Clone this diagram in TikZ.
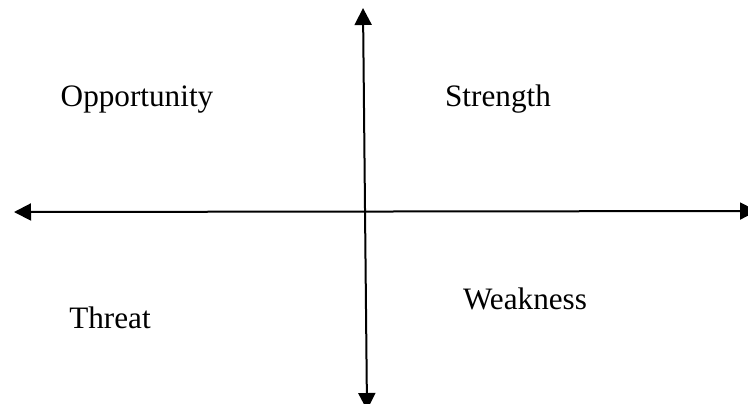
\documentclass[tikz,border=0pt]{standalone}
\usepackage{fontspec}
\setmainfont{Liberation Serif}
\usetikzlibrary{arrows.meta}

\begin{document}
\begin{tikzpicture}[x=0.5pt,y=-0.5pt,
    every node/.style={font=\fontsize{15.6}{18}\selectfont,inner sep=0pt,anchor=base},
    axis/.style={line width=1pt,{Triangle[length=8.5pt,width=8.5pt]}-{Triangle[length=8.5pt,width=8.5pt]}}]
        \useasboundingbox (0,0) rectangle (748,403);
        \coordinate (left) at (14,212);
        \coordinate (right) at (757,211);
        \coordinate (top) at (363,8);
        \coordinate (bottom) at (367,410);
        \draw[axis] (left) -- (right);
        \draw[axis] (top) -- (bottom);
        \node (opp) at (137,106) {Opportunity};
        \node (str) at (498,106) {Strength};
        \node (thr) at (110,328) {Threat};
        \node (wea) at (525,309) {Weakness};
      \end{tikzpicture}
\end{document}
